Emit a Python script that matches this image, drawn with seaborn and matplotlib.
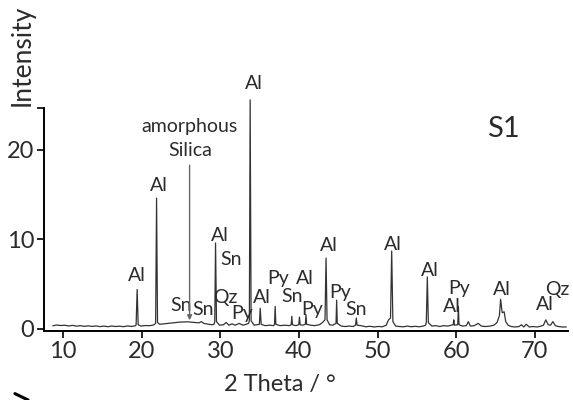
import matplotlib
matplotlib.use("Agg")
import matplotlib.pyplot as plt
from matplotlib.lines import Line2D
import seaborn as sns
import pandas as pd

# Diffractogram of sample S1 (2 theta in degrees, intensity in arbitrary units)
two_theta = [
    8.7, 9.2, 9.7, 10.2, 10.7, 11.2, 11.7, 12.2, 12.7, 13.2, 13.7, 14.2, 14.7,
    15.2, 15.7, 16.2, 16.7, 17.2, 17.7, 18.2, 18.7, 19.2,
    19.3, 19.43, 19.56,
    19.9, 20.5, 21.0, 21.5,
    21.78, 21.9, 22.02,
    22.3, 22.8, 23.3, 23.8, 24.3, 24.8, 25.3, 25.8, 26.3, 26.8, 27.3, 27.6,
    27.9, 28.4, 28.9, 29.2,
    29.3, 29.4, 29.52,
    29.9, 30.4, 30.75, 31.1, 31.5, 31.9, 32.4, 32.9, 33.3, 33.6,
    33.7, 33.8, 33.92,
    34.3, 34.7,
    34.97, 35.08, 35.2,
    35.7, 36.3, 36.8,
    36.9, 36.98, 37.07,
    37.6, 38.2, 38.8,
    39.02, 39.1, 39.18,
    39.6, 39.98, 40.07, 40.16,
    40.5, 40.82, 40.9, 40.98,
    41.5, 42.0, 42.6, 43.0,
    43.32, 43.45, 43.58,
    43.9, 44.3,
    44.72, 44.8, 44.88,
    45.4, 45.9, 46.4, 46.9,
    47.2, 47.3, 47.4,
    47.9, 48.5, 49.0, 49.6, 50.1, 50.6, 51.1, 51.4, 51.65,
    51.8, 51.95,
    52.3, 52.8, 53.3, 53.8, 54.3, 54.8, 55.3, 55.8, 56.1,
    56.2, 56.33, 56.46,
    56.9, 57.4, 57.9, 58.4, 58.9, 59.4,
    59.62, 59.7, 59.78,
    60.2, 60.28, 60.36,
    60.8, 61.3, 61.55, 61.8, 62.3, 62.8, 63.2, 63.7, 64.3, 64.8, 65.2,
    65.5, 65.65, 65.85, 66.1, 66.3, 66.6,
    67.0, 67.5, 68.0, 68.3, 68.6, 68.9, 69.3, 69.8, 70.3, 70.8,
    71.1, 71.4, 71.7, 72.0, 72.3, 72.6, 73.0, 73.5, 74.0,
]
intensity = [
    0.33, 0.42, 0.36, 0.40, 0.31, 0.38, 0.29, 0.35, 0.27, 0.33, 0.26, 0.32, 0.24,
    0.30, 0.23, 0.31, 0.25, 0.29, 0.23, 0.32, 0.26, 0.33,
    0.45, 4.4, 0.45,
    0.30, 0.36, 0.34, 0.42,
    0.6, 14.6, 0.7,
    0.50, 0.55, 0.60, 0.66, 0.70, 0.74, 0.76, 0.78, 0.74, 0.70, 0.66, 0.80,
    0.60, 0.52, 0.45, 0.50,
    0.8, 9.6, 0.8,
    0.40, 0.45, 0.70, 0.40, 0.55, 0.40, 0.60, 0.40, 0.50, 0.60,
    0.9, 25.6, 0.9,
    0.40, 0.45,
    0.5, 2.3, 0.5,
    0.35, 0.40, 0.35,
    0.5, 2.5, 0.5,
    0.35, 0.40, 0.35,
    0.45, 1.4, 0.45,
    0.35, 0.45, 1.3, 0.45,
    0.40, 0.50, 1.6, 0.50,
    0.40, 0.35, 0.45, 0.70,
    1.0, 7.9, 1.0,
    0.45, 0.40,
    0.6, 3.2, 0.6,
    0.30, 0.25, 0.30, 0.25,
    0.40, 1.2, 0.40,
    0.35, 0.22, 0.28, 0.20, 0.26, 0.22, 0.40, 1.0, 1.2,
    8.7, 0.8,
    0.30, 0.25, 0.22, 0.30, 0.22, 0.28, 0.22, 0.30, 0.40,
    0.7, 5.8, 0.7,
    0.30, 0.35, 0.25, 0.35, 0.30, 0.40,
    0.45, 1.0, 0.40,
    0.45, 2.5, 0.45,
    0.30, 0.35, 0.8, 0.30, 0.35, 0.6, 0.30, 0.25, 0.30, 0.40, 0.70,
    1.5, 3.3, 1.8, 1.9, 0.8, 0.40,
    0.25, 0.20, 0.25, 0.45, 0.20, 0.50, 0.20, 0.25, 0.20, 0.30,
    0.40, 1.0, 0.45, 0.40, 0.8, 0.35, 0.25, 0.20, 0.20,
]

# Phase labels: Al = alunite, Sn = sanidine, Qz = quartz, Py = pyrite
phase_labels = ["Al", "Al", "Al", "Al", "Sn", "Qz", "Py", "Sn", "Sn",
                "Al", "Py", "Sn", "Al", "Py", "Al", "Py", "Sn",
                "Al", "Al", "Py", "Al", "Al", "Al", "Qz"]
phase_label_x = [19.4, 22.2, 29.9, 34.3, 31.4, 30.7, 32.8, 25.0, 27.8,
                 35.3, 37.4, 39.1, 40.7, 41.7, 43.8, 45.2, 47.3,
                 52.0, 56.6, 60.4, 59.4, 65.8, 71.3, 72.8]
phase_label_y = [6.0, 16.0, 10.4, 27.4, 7.8, 3.5, 1.7, 2.6, 2.2,
                 3.5, 5.6, 3.6, 5.6, 2.2, 9.3, 4.0, 2.2,
                 9.4, 6.5, 4.5, 2.5, 4.4, 2.7, 4.4]

silica_pos = 26.1
silica_top = 18.3
silica_bottom = 0.95

sns.set_theme(style="ticks")
plt.rcParams["font.family"] = ["Lato", "DejaVu Sans"]

text_color = "#2b2b2b"
fig = plt.figure(figsize=(5.73, 4.0), dpi=100)
ax = fig.add_axes([0.077, 0.1725, 0.914, 0.598])

df = pd.DataFrame({"two_theta": two_theta, "intensity": intensity})
sns.lineplot(data=df, x="two_theta", y="intensity", ax=ax, color="#333333",
             linewidth=0.9, sort=False, estimator=None)

for lab, lx, ly in zip(phase_labels, phase_label_x, phase_label_y):
    ax.text(lx, ly, lab, ha="center", va="center", fontsize=14,
            color=text_color, clip_on=False)

ax.annotate("", xy=(silica_pos, silica_bottom), xytext=(silica_pos, silica_top),
            arrowprops=dict(arrowstyle="-|>", color="#666666", lw=1.0,
                            mutation_scale=7, shrinkA=0, shrinkB=0))
ax.text(silica_pos, 22.6, "amorphous", ha="center", va="center", fontsize=14,
        color=text_color)
ax.text(silica_pos + 0.1, 19.9, "Silica", ha="center", va="center", fontsize=14,
        color=text_color)

ax.text(66.0, 22.3, "S1", ha="center", va="center", fontsize=21, color=text_color)

ax.set_xlim(7.6, 74.2)
ax.set_ylim(-0.25, 26.5)
ax.spines["left"].set_bounds(-0.25, 24.7)
ax.spines["top"].set_visible(False)
ax.spines["right"].set_visible(False)
for s in ("left", "bottom"):
    ax.spines[s].set_linewidth(1.4)
    ax.spines[s].set_color("black")

ax.set_xticks([10, 20, 30, 40, 50, 60, 70])
ax.set_yticks([0, 10, 20])
ax.set_yticks([24.7], minor=True)
ax.tick_params(axis="both", which="major", direction="out", length=5, width=1.2,
               labelsize=17, labelcolor=text_color, color="black", pad=2)
ax.tick_params(axis="y", which="minor", direction="out", length=5, width=1.2,
               color="black")
ax.set_xlabel("2 Theta / °", fontsize=17, color=text_color)
ax.xaxis.set_label_coords(0.45, -0.18)
ax.set_ylabel("")
fig.text(0.038, 0.862, "Intensity", rotation=90, ha="center", va="center",
         fontsize=19, color=text_color)

fig.add_artist(Line2D([0.026, 0.049], [0.016, 0.0], transform=fig.transFigure,
                      color="black", linewidth=2.2))

fig.savefig("out.png", dpi=100)
